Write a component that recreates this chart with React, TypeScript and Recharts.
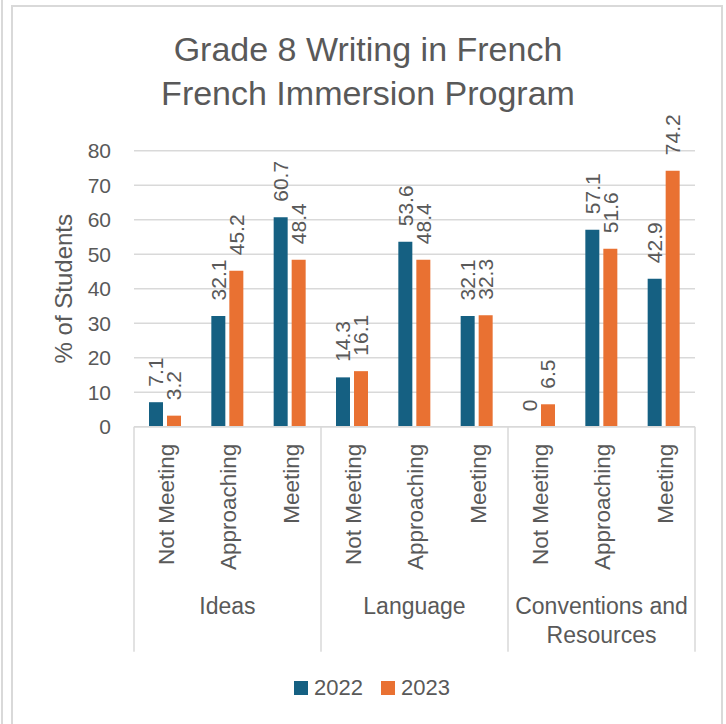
import { BarChart, Bar, XAxis, YAxis, CartesianGrid, Text } from "recharts"

const levels = [
  "Not Meeting", "Approaching", "Meeting",
  "Not Meeting", "Approaching", "Meeting",
  "Not Meeting", "Approaching", "Meeting",
]
const groups = ["Ideas", "Language", "Conventions and Resources"]
const values2022 = [7.1, 32.1, 60.7, 14.3, 53.6, 32.1, 0, 57.1, 42.9]
const values2023 = [3.2, 45.2, 48.4, 16.1, 48.4, 32.3, 6.5, 51.6, 74.2]
const yTicks = [0, 10, 20, 30, 40, 50, 60, 70, 80]
const seriesNames = ["2022", "2023"]
const titleLines = ["Grade 8 Writing in French", "French Immersion Program"]

const W = 726
const H = 724
const MARGIN = { top: 150.7, right: 31, bottom: 72.3, left: 0 }
const Y_W = 134
const X_H = 225
const BAR_GAP = 4
const FONT = "'Liberation Sans', Arial, sans-serif"
const TEXT = "#595959"
const LINE = "#d9d9d9"
const COLOURS = ["#156082", "#e97132"]

const data = levels.map((level, i) => ({
  level,
  group: groups[Math.floor(i / 3)],
  v2022: values2022[i],
  v2023: values2023[i],
}))

const band = (W - MARGIN.left - Y_W - MARGIN.right) / levels.length

function CategoryTick(props: any) {
  const { x, y, payload } = props
  const i = payload.index ?? props.index
  const groupSize = levels.length / groups.length
  return (
    <g>
      <text
        x={x}
        y={y + 17}
        dy={9}
        transform={`rotate(-90 ${x} ${y + 17})`}
        textAnchor="end"
        fill={TEXT}
        fontSize={22.5}
        fontFamily={FONT}
      >
        {payload.value}
      </text>
      {i % groupSize === 0 && (
        <line x1={x - band / 2} x2={x - band / 2} y1={y} y2={y + X_H} stroke={LINE} strokeWidth={1.5} />
      )}
      {i === levels.length - 1 && (
        <line x1={x + band / 2} x2={x + band / 2} y1={y} y2={y + X_H} stroke={LINE} strokeWidth={1.5} />
      )}
      {i % groupSize === 1 && (
        <Text
          x={x}
          y={y + 171}
          width={band * groupSize - 6}
          textAnchor="middle"
          verticalAnchor="start"
          lineHeight={29}
          fill={TEXT}
          style={{ fontSize: 23, fontFamily: FONT }}
        >
          {groups[Math.floor(i / groupSize)]}
        </Text>
      )}
    </g>
  )
}

function RotatedValue({ cx, top, value }: { cx: number; top: number; value: number }) {
  const ay = top - 15.5
  return (
    <text
      x={cx}
      y={ay}
      dy={7.5}
      transform={`rotate(-90 ${cx} ${ay})`}
      textAnchor="start"
      fill={TEXT}
      fontSize={21}
      fontFamily={FONT}
    >
      {String(value)}
    </text>
  )
}

function ValueLabel(props: any) {
  const { x, y, width, value } = props
  return <RotatedValue cx={x + width / 2} top={y} value={value} />
}

// zero-height 2022 bars get no label from recharts, so the 2023 label draws it beside itself
function ValueLabel2023(props: any) {
  const { x, y, width, height, value, index } = props
  const prev = values2022[index]
  return (
    <g>
      <RotatedValue cx={x + width / 2} top={y} value={value} />
      {prev === 0 && <RotatedValue cx={x - BAR_GAP - width / 2} top={y + height} value={prev} />}
    </g>
  )
}

export default function App() {
  return (
    <div style={{ position: "absolute", left: 0, top: 0, width: W, height: H, overflow: "hidden", background: "#fff" }}>
      <div style={{ position: "absolute", left: 1, top: 0, width: 2, height: H, background: LINE }} />
      <div
        style={{
          position: "absolute",
          left: 11,
          top: 5,
          width: 708,
          height: H,
          borderTop: `2px solid ${LINE}`,
          borderLeft: `2px solid ${LINE}`,
          borderRight: `2px solid ${LINE}`,
        }}
      />
      <div
        style={{
          position: "absolute",
          left: 12,
          top: 27,
          width: 712,
          textAlign: "center",
          fontFamily: FONT,
          fontSize: 34,
          lineHeight: "44px",
          color: TEXT,
        }}
      >
        {titleLines.map((t) => (
          <div key={t}>{t}</div>
        ))}
      </div>
      <div style={{ position: "absolute", left: 0, top: 0 }}>
        <BarChart width={W} height={H} data={data} margin={MARGIN} barSize={14} barGap={BAR_GAP}>
          <CartesianGrid vertical={false} stroke={LINE} strokeWidth={1.5} />
          <XAxis
            dataKey="level"
            height={X_H}
            interval={0}
            tickLine={false}
            tickSize={0}
            tickMargin={0}
            axisLine={{ stroke: LINE, strokeWidth: 1.5 }}
            tick={<CategoryTick />}
          />
          <YAxis
            width={Y_W}
            domain={[0, 80]}
            ticks={yTicks}
            axisLine={false}
            tickLine={false}
            tickSize={0}
            tickMargin={23}
            tick={{ fill: TEXT, fontSize: 21, fontFamily: FONT }}
            label={{
              content: ({ viewBox }: any) => {
                const cy = viewBox.y + viewBox.height / 2
                return (
                  <text
                    x={63.5}
                    y={cy}
                    transform={`rotate(-90 63.5 ${cy})`}
                    textAnchor="middle"
                    dominantBaseline="central"
                    fill={TEXT}
                    fontSize={24}
                    fontFamily={FONT}
                  >
                    % of Students
                  </text>
                )
              },
            }}
          />
          <Bar dataKey="v2022" name={seriesNames[0]} fill={COLOURS[0]} isAnimationActive={false} label={<ValueLabel />} />
          <Bar dataKey="v2023" name={seriesNames[1]} fill={COLOURS[1]} isAnimationActive={false} label={<ValueLabel2023 />} />
        </BarChart>
      </div>
      <div
        style={{
          position: "absolute",
          left: 0,
          top: 677,
          width: 744,
          display: "flex",
          justifyContent: "center",
          gap: 18,
          fontFamily: FONT,
          fontSize: 22,
          lineHeight: "22px",
          color: TEXT,
        }}
      >
        {seriesNames.map((name, i) => (
          <div key={name} style={{ display: "flex", alignItems: "center", gap: 6 }}>
            <span style={{ width: 14, height: 14, background: COLOURS[i], display: "inline-block" }} />
            <span>{name}</span>
          </div>
        ))}
      </div>
    </div>
  )
}
